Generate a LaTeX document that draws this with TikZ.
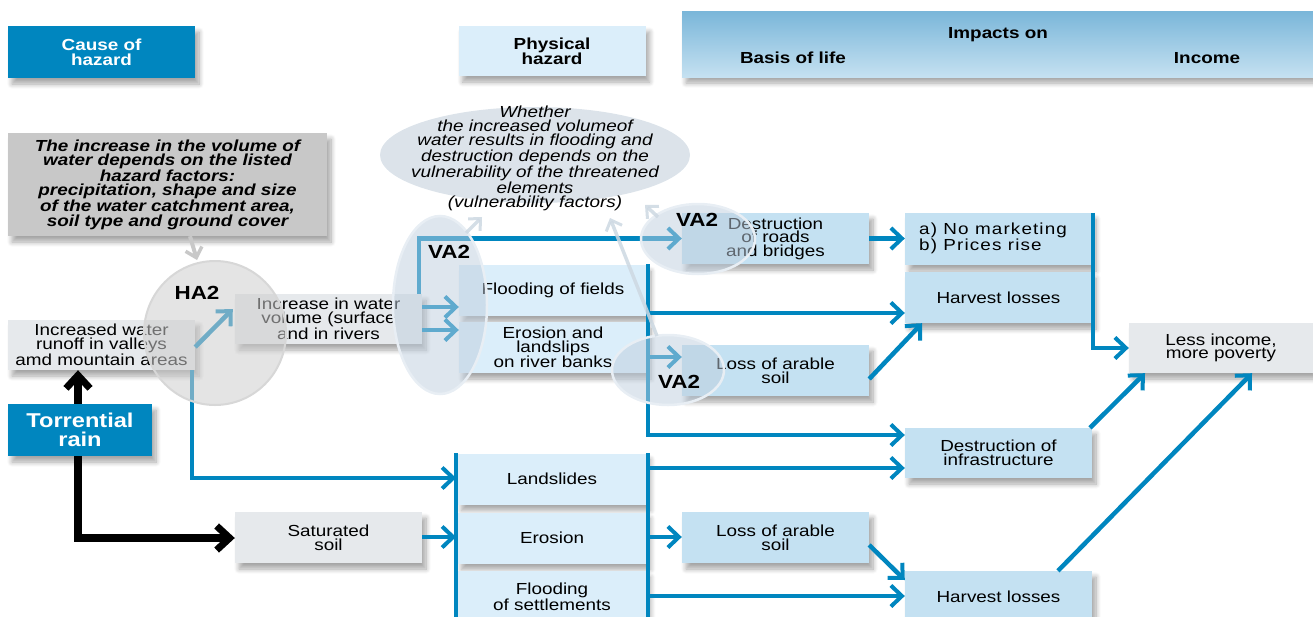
\documentclass[tikz,border=0pt]{standalone}
\usepackage{fontspec}
\setmainfont{Liberation Sans}[FakeStretch=1.18]
\usetikzlibrary{arrows.meta,shapes.geometric,shadows.blur}
\definecolor{dblue}{RGB}{0,134,191}
\definecolor{lblue}{RGB}{196,225,242}
\definecolor{pblue}{RGB}{219,238,250}
\definecolor{lgray}{RGB}{230,233,236}
\definecolor{mgray}{RGB}{200,200,200}
\definecolor{ellc}{RGB}{220,227,234}
\definecolor{vafill}{RGB}{190,206,222}
\definecolor{varing}{RGB}{232,238,244}
\definecolor{hafill}{RGB}{205,205,205}
\definecolor{haring}{RGB}{215,215,215}
\definecolor{hdtop}{RGB}{122,182,217}
\definecolor{hdbot}{RGB}{197,225,241}
\definecolor{varrc}{RGB}{205,216,226}
\newcommand{\fnorm}{\fontsize{16}{13.6}\selectfont}
\newcommand{\fbold}{\bfseries\fontsize{16}{15}\selectfont}
\begin{document}
\begin{tikzpicture}[x=1pt,y=-1pt,
 shd/.style={blur shadow={shadow xshift=4pt,shadow yshift=-6pt,shadow opacity=35,shadow blur steps=8,shadow blur radius=5pt}},
 box/.style={shd,rectangle,inner sep=0pt,minimum width=187pt,minimum height=51pt,align=center,font=\fnorm},
 bbox/.style={box,fill=lblue},
 pbox/.style={box,fill=pblue},
 gbox/.style={box,fill=lgray},
 dbox/.style={box,fill=dblue,text=white,font=\fbold},
 arr/.style={draw=dblue,line width=4.5pt,-{Straight Barb[length=11pt,width=21pt,line width=4pt]}},
 bar/.style={draw=dblue,line width=4.5pt},
 blk/.style={draw=black,line width=8pt,-{Straight Barb[length=13pt,width=24pt,line width=7pt]}},
 garr/.style={draw=mgray,line width=4pt,-{Straight Barb[length=9pt,width=17pt,line width=3.5pt]}},
 varr/.style={draw=varrc,draw opacity=0.85,line width=3.5pt,-{Straight Barb[length=9pt,width=17pt,line width=3pt]}},
 vaell/.style={ellipse,draw=varing,line width=2.5pt,fill=vafill,fill opacity=0.5,inner sep=0pt},
 lab/.style={font=\bfseries\fontsize{19}{19}\selectfont,inner sep=0pt}]
\useasboundingbox (0,0) rectangle (1313,616);

% headers
\node[dbox,minimum height=52pt] (cause) at (101.5,52) {Cause of\\hazard};
\node[pbox,font=\fbold,minimum height=50pt] (phys) at (552,51) {Physical\\hazard};
\node[shd,inner sep=0pt,minimum width=631pt,minimum height=66pt,top color=hdtop,bottom color=hdbot] (impbox) at (997.5,44) {};
\node[font=\fbold,inner sep=0pt] (impt) at (998,35) {Impacts on};
\node[font=\fbold,inner sep=0pt] (basis) at (793,58) {Basis of life};
\node[font=\fbold,inner sep=0pt] (income) at (1207,58) {Income};

% explanatory boxes
\node[box,fill=mgray,minimum width=319pt,minimum height=103pt,font=\bfseries\itshape\fontsize{16}{14}\selectfont] (gray) at (167.5,184.5)
 {The increase in the volume of\\water depends on the listed\\hazard factors:\\precipitation, shape and size\\of the water catchment area,\\soil type and ground cover};
\node[ellipse,fill=ellc,minimum width=310pt,minimum height=96pt,inner sep=0pt] (bigell) at (535,155) {};
\node[align=center,inner sep=0pt,font=\itshape\fontsize{16}{14}\selectfont] (bigtxt) at (535,158)
 {Whether\\the increased volumeof\\water results in flooding and\\destruction depends on the\\vulnerability of the threatened\\elements\\(vulnerability factors)};

% cause column
\node[gbox,minimum height=50pt] (runoff) at (101.5,345) {Increased water\\runoff in valleys\\amd mountain areas};
\node[dbox,minimum width=144pt,minimum height=52pt,font=\bfseries\fontsize{20}{19}\selectfont] (torr) at (80,430) {Torrential\\rain};
\node[gbox,minimum height=50pt] (increase) at (328.5,319) {Increase in water\\volume (surface\\and in rivers};
\node[gbox] (sat) at (328.5,537.5) {Saturated\\soil};

% physical hazard column
\node[pbox,minimum width=188pt] (flood) at (553,290.5) {Flooding of fields};
\node[pbox,minimum width=188pt] (erorb) at (553,347.5) {Erosion and\\landslips\\on river banks};
\node[pbox,minimum width=189pt] (lands) at (552,479) {Landslides};
\node[pbox,minimum width=189pt] (eros) at (552,538) {Erosion};
\node[pbox,minimum width=189pt,minimum height=52pt] (flset) at (552,597) {Flooding\\of settlements};

% basis of life column
\node[bbox] (roads) at (775.5,238.5) {Destruction\\of roads\\and bridges};
\node[bbox] (loss1) at (775.5,370.5) {Loss of arable\\soil};
\node[bbox] (loss2) at (775.5,537.5) {Loss of arable\\soil};
\node[bbox,minimum height=52pt] (mkt) at (998.5,239) {};
\node[align=left,anchor=west,inner sep=0pt,font=\fnorm\addfontfeatures{LetterSpace=7}] (mkttxt) at (919,238) {a) No marketing\\b) Prices rise};
\node[bbox] (harv1) at (998.5,297.5) {Harvest losses};
\node[bbox,minimum height=50pt] (infra) at (998.5,453) {Destruction of\\infrastructure};
\node[bbox,minimum height=52pt] (harv2) at (998.5,597) {Harvest losses};
\node[gbox,minimum width=184pt,minimum height=50pt] (less) at (1221,348) {Less income,\\more poverty};

% bars
\coordinate (tb1) at (648,264);
\coordinate (bb1) at (648,453);
\coordinate (bb2) at (648,620);
\coordinate (lb1) at (456,453);
\coordinate (lb2) at (456,620);
\draw[bar] (bb1) -- (bb2);
\draw[bar] (lb1) -- (lb2);

% blue connectors
\draw[arr] ([yshift=-2pt]runoff.east) -- ([shift={(-2pt,10pt)}]increase.west);
\draw[arr] (increase.east |- 0,307) -- (flood.west |- 0,307);
\draw[arr] (increase.east |- 0,330) -- (erorb.west |- 0,330);
\draw[arr] (increase.north -| 419,0) |- (roads.west);
\draw[arr] (runoff.south -| 192,0) |- (lb1 |- 0,478);
\draw[arr] (sat.east |- 0,537) -- (lb1 |- 0,537);
\draw[arr] (tb1) |- (infra.west |- 0,435);
\draw[arr] (tb1 |- 0,313) -- (harv1.west |- 0,313);
\draw[arr] (tb1 |- 0,357) -- (loss1.west |- 0,357);
\draw[arr] (roads.east) -- (mkt.west |- roads.east);
\draw[arr] (loss1.east |- 0,379) -- (harv1.south west -| 922,0);
\draw[arr] (mkt.north east -| 1093,0) |- (less.west);
\draw[arr] (infra.north -| 1090,0) -- (less.south -| 1145,0);
\draw[arr] (harv2.north -| 1058,0) -- (less.south -| 1252,0);
\draw[arr] (bb1 |- 0,468) -- (infra.west |- 0,468);
\draw[arr] (bb1 |- 0,537) -- (loss2.west |- 0,537);
\draw[arr] (bb1 |- 0,596) -- (harv2.west |- 0,596);
\draw[arr] (loss2.east |- 0,545) -- (harv2.west |- 0,580);

% black connectors
\draw[blk] (torr.north -| 78,0) -- (runoff.south -| 78,0);
\draw[blk,line join=miter] (torr.south -| 78,0) |- (sat.west |- 0,538);

% assessment ellipses
\node[ellipse,draw=haring,line width=2pt,fill=hafill,fill opacity=0.55,inner sep=0pt,minimum width=142pt,minimum height=144pt] (ha2c) at (215,333) {};
\node[vaell,minimum width=94pt,minimum height=178pt] (va2l) at (440,305) {};
\node[vaell,minimum width=114pt,minimum height=70pt] (va2t) at (698,239) {};
\node[vaell,minimum width=112pt,minimum height=70pt] (va2b) at (668,370) {};
\node[lab] (ha2lab) at (197,293) {HA2};
\node[lab] (va2llab) at (449,252) {VA2};
\node[lab] (va2tlab) at (697,220) {VA2};
\node[lab] (va2blab) at (679,382) {VA2};

% grey connectors
\coordinate (g2s) at (466,233);
\coordinate (g2e) at (482,217);
\coordinate (g3s) at (658,217);
\coordinate (g3e) at (645,205);
\coordinate (g4s) at (657,336);
\coordinate (g4e) at (610,218);
\draw[garr] (gray.south -| 190,0) -- (ha2c.north -| 197,0);
\draw[varr] (g2s) -- (g2e);
\draw[varr] (g3s) -- (g3e);
\draw[varr] (g4s) -- (g4e);
\end{tikzpicture}
\end{document}
